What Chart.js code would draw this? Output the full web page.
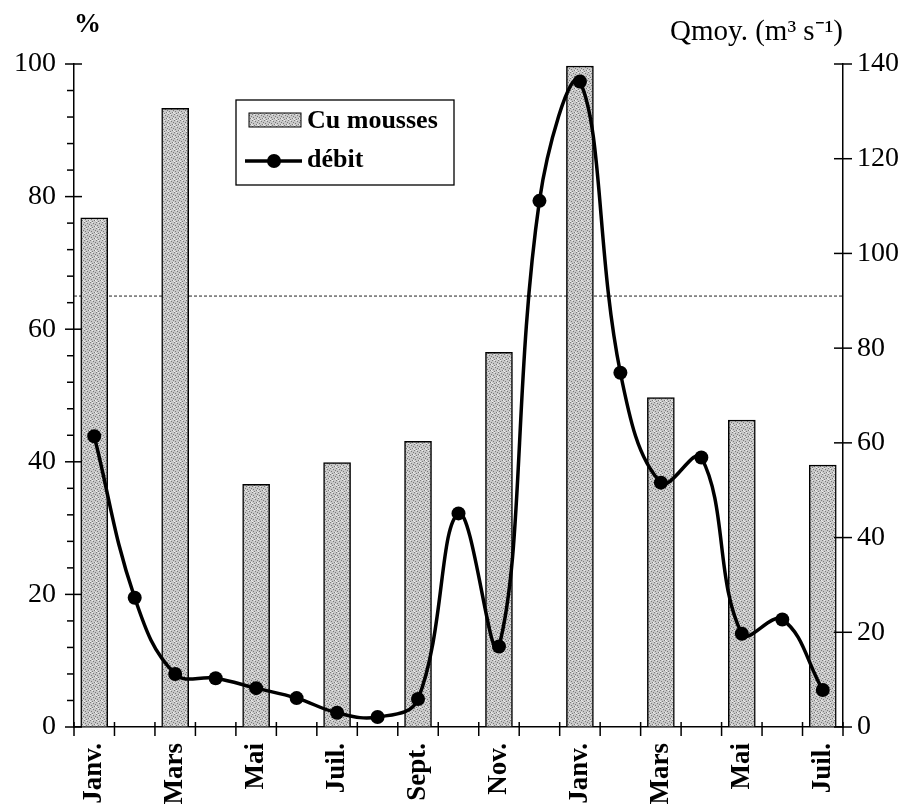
<!DOCTYPE html>
<html>
<head>
<meta charset="utf-8">
<script src="https://cdn.jsdelivr.net/npm/chart.js@4"></script>
<style>
html,body{margin:0;padding:0;background:#fff;}
#wrap{position:relative;width:914px;height:812px;}
</style>
</head>
<body>
<div id="wrap"><canvas id="c"></canvas></div>
<script>
// ---- data ----
const months = ['Janv.','Févr.','Mars','Avr.','Mai','Juin','Juil.','Août','Sept.','Oct.','Nov.','Déc.',
                'Janv.','Févr.','Mars','Avr.','Mai','Juin','Juil.'];
const shownMonths = ['Janv.','Mars','Mai','Juil.','Sept.','Nov.','Janv.','Mars','Mai','Juil.'];
const cuMousses = [76.8,null,93.3,null,36.6,null,39.9,null,43.1,null,56.5,null,99.7,null,49.7,null,46.3,null,39.5];
const debit = [61.4,27.3,11.2,10.3,8.2,6.1,3.0,2.1,5.9,45.1,17.0,111.1,136.3,74.8,51.6,56.9,19.7,22.7,7.8];
const leftTicks = [0,20,40,60,80,100];
const rightTicks = [0,20,40,60,80,100,120,140];
const thresholdPct = 65;
const labelBars = 'Cu mousses';
const labelLine = 'débit';
const leftTitle = '%';
const rightTitle = 'Qmoy. (m³ s⁻¹)';

const SERIF = '"Liberation Serif", "Times New Roman", serif';

// stipple pattern for bars (deterministic)
function makePattern(){
  const p = document.createElement('canvas');
  p.width = 6; p.height = 6;
  const g = p.getContext('2d');
  g.fillStyle = '#c8c8c8'; g.fillRect(0,0,6,6);
  g.fillStyle = '#7a7a7a';
  [[0,0],[3,1],[1,3],[4,4],[2,5],[5,2]].forEach(([x,y])=>g.fillRect(x,y,1,1));
  g.fillStyle = '#eeeeee';
  [[2,0],[5,4],[0,5]].forEach(([x,y])=>g.fillRect(x,y,1,1));
  return document.getElementById('c').getContext('2d').createPattern(p,'repeat');
}
const pattern = makePattern();

const axisPlugin = {
  id: 'axisDecor',
  afterDraw(chart){
    const ctx = chart.ctx, a = chart.chartArea;
    const x = chart.scales.x, y = chart.scales.y, y1 = chart.scales.y1;
    ctx.save();
    ctx.strokeStyle = '#000'; ctx.lineWidth = 1.5;
    // x ticks at category boundaries
    const half = (x.getPixelForValue(1) - x.getPixelForValue(0)) / 2;
    for (let i = 0; i <= months.length; i++){
      const px = i < months.length ? x.getPixelForValue(i) - half : x.getPixelForValue(months.length-1) + half;
      ctx.beginPath(); ctx.moveTo(px, a.bottom - 5); ctx.lineTo(px, a.bottom + 9); ctx.stroke();
    }
    // left axis ticks
    y.ticks.forEach(t => {
      const py = y.getPixelForValue(t.value);
      const major = leftTicks.includes(t.value);
      ctx.beginPath();
      ctx.moveTo(a.left - (major ? 9 : 7), py);
      ctx.lineTo(a.left + (major ? 8 : 0), py);
      ctx.stroke();
    });
    // right axis ticks
    y1.ticks.forEach(t => {
      const py = y1.getPixelForValue(t.value);
      ctx.beginPath(); ctx.moveTo(a.right - 9, py); ctx.lineTo(a.right + 9, py); ctx.stroke();
    });
    // axis titles
    ctx.fillStyle = '#000';
    ctx.textBaseline = 'middle';
    ctx.font = 'bold 27px ' + SERIF;
    ctx.textAlign = 'left';
    ctx.fillText(leftTitle, a.left, 25);
    ctx.font = '29px ' + SERIF;
    ctx.textAlign = 'right';
    ctx.fillText(rightTitle, a.right, 32);

    // legend box
    const lx = 236, ly = 100, lw = 218, lh = 85;
    ctx.lineWidth = 1.3;
    ctx.strokeStyle = '#000';
    ctx.fillStyle = '#fff';
    ctx.fillRect(lx, ly, lw, lh);
    ctx.strokeRect(lx, ly, lw, lh);
    ctx.fillStyle = pattern; ctx.fillRect(lx + 13, ly + 13, 52, 14);
    ctx.lineWidth = 1; ctx.strokeRect(lx + 13, ly + 13, 52, 14);
    ctx.fillStyle = '#000';
    ctx.font = 'bold 26px ' + SERIF; ctx.textAlign = 'left';
    ctx.fillText(chart.data.datasets[1].label, lx + 71, ly + 21);
    ctx.lineWidth = 3.5;
    ctx.beginPath(); ctx.moveTo(lx + 9, ly + 61); ctx.lineTo(lx + 66, ly + 61); ctx.stroke();
    ctx.beginPath(); ctx.arc(lx + 38, ly + 61, 7, 0, Math.PI*2); ctx.fill();
    ctx.fillText(chart.data.datasets[0].label, lx + 71, ly + 60);
    ctx.restore();
  },
  beforeDatasetsDraw(chart){
    const ctx = chart.ctx, a = chart.chartArea;
    const py = chart.scales.y.getPixelForValue(thresholdPct);
    ctx.save();
    ctx.strokeStyle = '#222'; ctx.lineWidth = 1; ctx.setLineDash([3,2]);
    ctx.beginPath(); ctx.moveTo(a.left, py); ctx.lineTo(a.right, py); ctx.stroke();
    ctx.restore();
  }
};

new Chart(document.getElementById('c'), {
  data: {
    labels: months,
    datasets: [
      {
        type: 'line', label: labelLine, data: debit, yAxisID: 'y1', order: 0,
        borderColor: '#000', backgroundColor: '#000', borderWidth: 3.5,
        pointRadius: 7, pointBackgroundColor: '#000', pointBorderWidth: 0,
        tension: 0.4, fill: false, clip: false
      },
      {
        type: 'bar', label: labelBars, data: cuMousses, yAxisID: 'y', order: 1,
        backgroundColor: pattern, borderColor: '#000', borderWidth: 1.5,
        barThickness: 27, borderSkipped: 'bottom'
      }
    ]
  },
  options: {
    responsive: true, maintainAspectRatio: false, animation: false,
    layout: { padding: { top: 64, left: 0, right: 0, bottom: 0 } },
    plugins: { legend: { display: false }, tooltip: { enabled: false } },
    scales: {
      x: {
        type: 'category', offset: true,
        grid: { display: true, drawOnChartArea: false, drawTicks: false },
        border: { display: true, color: '#000', width: 1.5 },
        ticks: {
          autoSkip: false, maxRotation: 90, minRotation: 90, padding: 16, color: '#000',
          font: { family: SERIF, size: 27, weight: 'bold' },
          callback: (v, i) => i % 2 === 0 ? shownMonths[i / 2] : ''
        },
        afterFit: s => { s.height = 85; }
      },
      y: {
        position: 'left', min: 0, max: 100,
        grid: { display: true, drawOnChartArea: false, drawTicks: false },
        border: { display: true, color: '#000', width: 1.5 },
        ticks: {
          stepSize: 4, autoSkip: false, padding: 18, color: '#000',
          font: { family: SERIF, size: 28 },
          callback: v => leftTicks.includes(v) ? String(v) : ''
        },
        afterFit: s => { s.width = 74; }
      },
      y1: {
        position: 'right', min: 0, max: 140,
        grid: { display: true, drawOnChartArea: false, drawTicks: false },
        border: { display: true, color: '#000', width: 1.5 },
        ticks: {
          stepSize: 20, padding: 14, color: '#000',
          font: { family: SERIF, size: 28 },
          callback: v => rightTicks.includes(v) ? String(v) : ''
        },
        afterFit: s => { s.width = 71; }
      }
    }
  },
  plugins: [axisPlugin]
});
</script>
</body>
</html>
